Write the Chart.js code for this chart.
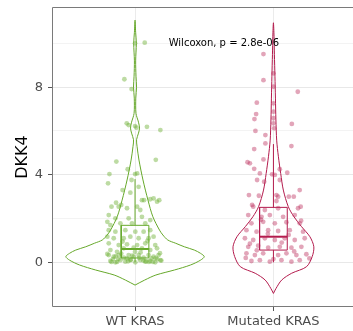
<!DOCTYPE html>
<html><head><meta charset="utf-8">
<script src="https://cdn.jsdelivr.net/npm/chart.js@4.4.1/dist/chart.umd.min.js"></script>
<style>
html,body{margin:0;padding:0;overflow:hidden;background:#fff;width:353px;height:331px;}
</style></head>
<body><canvas id="c" width="353" height="331" style="width:353px;height:331px;display:block"></canvas>
<script>
const categories = ['WT KRAS', 'Mutated KRAS'];
const yTickLabels = [0, 4, 8];
const yMinorTicks = [2, 6, 10];
const yLimits = [-2.04, 11.66];
const xLimits = [0.4, 2.575];
const pLabel = 'Wilcoxon, p = 2.8e-06';

// jittered points: horizontal jitter offset and value
const wtJitter = [0.07,0.0,-0.077,-0.025,-0.06,-0.046,0.0,0.01,0.086,0.183,0.15,-0.135,-0.185,-0.195,-0.053,0.0,0.015,-0.025,-0.09,-0.034,0.026,-0.137,-0.10,0.05,0.11,0.134,0.159,0.175,0.015,0.065,
 -0.17,-0.118,-0.058,0.038,-0.19,-0.142,-0.046,0.05,-0.2,-0.178,-0.106,-0.022,0.074,0.11,-0.19,-0.142,-0.07,0.002,0.062,0.11,-0.2,-0.154,-0.082,-0.034,0.026,0.098,0.134,
 -0.19,-0.118,-0.058,0.015,0.074,0.146,-0.178,-0.13,-0.082,-0.01,0.05,0.11,0.159,
 -0.19,-0.154,-0.118,-0.082,-0.046,-0.01,0.026,0.062,0.098,0.134,0.17,-0.178,-0.142,-0.106,-0.07,-0.034,0.002,0.038,0.074,0.11,0.146,0.183,
 -0.16,-0.1,-0.03,0.04,0.12,0.18,-0.13,-0.06,0.08,0.16,-0.2,0.0,0.19,-0.09,0.09,
 -0.17,-0.12,-0.05,0.03,0.1,0.15,-0.14,0.06,-0.02,0.13];
const wtValues = [10.03,10.0,8.36,7.91,6.35,6.27,6.22,6.15,6.19,6.04,4.68,4.6,4.03,3.61,4.25,4.03,4.06,3.76,3.30,3.18,3.45,2.72,2.62,2.84,2.88,2.92,2.77,2.84,2.54,2.84,
 2.54,2.54,2.47,2.39,2.16,2.01,2.01,2.08,1.85,1.70,1.78,1.78,1.78,1.93,1.47,1.40,1.47,1.40,1.40,1.47,1.17,1.10,1.10,1.17,1.10,1.10,1.17,
 0.87,0.79,0.82,0.79,0.87,0.79,0.56,0.48,0.64,0.67,0.64,0.56,0.64,
 0.33,0.26,0.33,0.21,0.33,0.26,0.33,0.21,0.33,0.26,0.33,0.06,0.0,0.1,0.03,0.1,0.0,0.1,0.03,0.06,0.0,0.1,
 0.15,0.4,0.12,0.45,0.18,0.42,0.02,0.18,0.05,0.14,0.38,0.48,0.08,0.95,0.98,
 0.02,0.15,0.05,0.2,0.02,0.2,0.27,0.08,0.3,0.02];

const mutJitter = [-0.072,-0.072,0.176,-0.12,-0.125,-0.137,0.133,-0.13,0.0,0.0,0.0,0.0,0.0,0.0,0.005,
 -0.058,-0.058,0.13,-0.139,-0.187,-0.17,-0.072,-0.139,-0.098,-0.01,0.01,0.046,0.10,-0.118,-0.067,0.046,0.19,-0.177,-0.105,0.022,0.034,0.111,0.147,-0.154,0.197,0.022,
 -0.146,-0.062,0.034,0.178,-0.182,-0.086,-0.026,0.07,0.154,-0.159,-0.074,0.01,0.094,0.19,-0.195,-0.122,-0.038,0.034,0.118,0.214,
 -0.206,-0.146,-0.062,0.01,0.082,0.154,0.226,-0.182,-0.11,-0.038,0.046,0.13,0.202,
 -0.195,-0.134,-0.074,0.034,0.094,0.166,0.238,-0.159,-0.098,-0.026,0.058,0.13,0.19,0.26,
 -0.12,0.06,-0.17,0.15,-0.04,0.11,-0.09,0.2,-0.2,0.0];
const mutValues = [9.51,8.32,7.79,7.29,6.77,6.54,6.32,6.0,8.63,8.02,7.26,6.88,6.58,6.35,6.12,
 5.81,5.43,5.31,5.17,4.57,4.52,4.70,4.27,4.06,4.02,3.99,4.25,4.09,3.76,3.68,3.76,3.30,3.07,3.04,3.07,3.0,3.0,3.0,2.62,2.54,2.80,
 2.54,2.39,2.47,2.47,2.16,2.08,2.16,2.08,2.16,1.78,1.85,1.78,1.83,1.78,1.47,1.40,1.47,1.43,1.47,1.40,
 1.10,1.02,1.10,1.02,1.10,1.02,1.10,0.71,0.76,0.67,0.71,0.67,0.71,
 0.41,0.33,0.41,0.33,0.41,0.33,0.37,0.06,0.10,0.03,0.10,0.03,0.10,0.18,
 0.55,0.9,0.85,0.5,1.3,1.25,1.95,1.9,0.2,0.15];

// violin outlines: value levels and relative density
const wtViolinY = [-1.04,-0.81,-0.58,-0.35,-0.12,0.1,0.26,0.41,0.56,0.71,0.87,1.02,1.25,1.47,2.08,2.84,3.76,4.67,5.3,5.6,5.9,6.13,6.4,6.8,7.5,8.0,8.5,9.2,10.0,10.5,11.06];
const wtViolinDensity = [0,0.139,0.301,0.57,0.803,0.947,1,0.947,0.857,0.713,0.588,0.473,0.402,0.354,0.258,0.187,0.115,0.057,0.029,0.022,0.05,0.065,0.05,0.014,0.011,0.022,0.014,0.009,0.019,0.009,0];
const mutViolinY = [-1.42,-1.2,-0.81,-0.5,-0.2,0.26,0.71,1.17,1.63,2.08,2.54,3.30,4.06,4.82,5.58,6.5,7.5,8.5,9.5,10.3,10.94];
const mutViolinDensity = [0,0.036,0.119,0.263,0.478,0.56,0.584,0.527,0.406,0.297,0.215,0.143,0.105,0.072,0.047,0.036,0.029,0.022,0.014,0.009,0];

// box stats: lower whisker, q1, median, q3, upper whisker
const wtBox = [0.0, 0.2, 0.61, 1.69, 3.8];
const mutBox = [0.0, 0.56, 1.17, 2.51, 5.40];

const GREEN = '#66a82a', RED = '#b31a4c';
const GREEN_PT = 'rgba(108,176,52,0.45)', RED_PT = 'rgba(186,40,88,0.42)';
const VIOLIN_HALF = 0.5, BOX_HALF = 0.1;

function pts(center, jit, vals){ return vals.map((v,i)=>({x:center+jit[i], y:v})); }
function violin(center, ys, ds){
  const right = ys.map((y,i)=>({x:center+ds[i]*VIOLIN_HALF, y}));
  const left = ys.slice(0,-1).map((y,i)=>({x:center-ds[i]*VIOLIN_HALF, y})).reverse();
  return right.concat(left);
}
function boxDs(center, b, color){
  const [lo,q1,md,q3,hi] = b;
  const base = {type:'line', showLine:true, pointRadius:0, borderColor:color, fill:false, tension:0, borderWidth:1};
  return [
    Object.assign({}, base, {data:[{x:center-BOX_HALF,y:q1},{x:center+BOX_HALF,y:q1},{x:center+BOX_HALF,y:q3},{x:center-BOX_HALF,y:q3},{x:center-BOX_HALF,y:q1}]}),
    Object.assign({}, base, {data:[{x:center,y:q3},{x:center,y:hi}]}),
    Object.assign({}, base, {data:[{x:center,y:lo},{x:center,y:q1}]}),
    Object.assign({}, base, {borderWidth:2, data:[{x:center-BOX_HALF,y:md},{x:center+BOX_HALF,y:md}]})
  ];
}

const datasets = [
  {type:'scatter', data:pts(1,wtJitter,wtValues), backgroundColor:GREEN_PT, borderWidth:0, pointRadius:2.4},
  {type:'scatter', data:pts(2,mutJitter,mutValues), backgroundColor:RED_PT, borderWidth:0, pointRadius:2.4},
  {type:'line', showLine:true, data:violin(1,wtViolinY,wtViolinDensity), borderColor:GREEN, borderWidth:1, pointRadius:0, fill:false, tension:0.3},
  {type:'line', showLine:true, data:violin(2,mutViolinY,mutViolinDensity), borderColor:RED, borderWidth:1, pointRadius:0, fill:false, tension:0.3},
  ...boxDs(1, wtBox, GREEN),
  ...boxDs(2, mutBox, RED)
];

const panelPlugin = {
  id:'panel',
  afterDraw(chart){
    const {ctx, chartArea:a, scales} = chart;
    ctx.save();
    ctx.strokeStyle = '#7a7a7a'; ctx.lineWidth = 1;
    ctx.beginPath();
    ctx.moveTo(a.right + 5, a.top + 0.5);
    ctx.lineTo(a.left + 0.5, a.top + 0.5);
    ctx.lineTo(a.left + 0.5, a.bottom - 0.5);
    ctx.lineTo(a.right + 5, a.bottom - 0.5);
    ctx.stroke();
    ctx.fillStyle = '#000';
    ctx.font = '10px "DejaVu Sans"';
    ctx.textAlign = 'center'; ctx.textBaseline = 'middle';
    ctx.fillText(pLabel, scales.x.getPixelForValue(1.642), scales.y.getPixelForValue(10.0));
    ctx.restore();
  }
};

new Chart(document.getElementById('c'), {
  type:'scatter',
  data:{datasets},
  options:{
    responsive:false, animation:false,
    layout:{autoPadding:false, padding:{top:7, right:0, left:0, bottom:0}},
    plugins:{legend:{display:false}, tooltip:{enabled:false}},
    scales:{
      x:{type:'linear', min:xLimits[0], max:xLimits[1],
        afterBuildTicks(s){ s.ticks = categories.map((c,i)=>({value:i+1})); },
        afterFit(s){ s.height = 24; s.paddingLeft = 0; s.paddingRight = 0; },
        ticks:{callback:(v)=>categories[Math.round(v)-1], color:'#4d4d4d', font:{family:'DejaVu Sans', size:13}, padding:3, autoSkip:false, maxRotation:0},
        grid:{color:'#ebebeb', lineWidth:1, tickLength:4, tickColor:'#555', drawTicks:true},
        border:{display:false}
      },
      y:{type:'linear', min:yLimits[0], max:yLimits[1],
        afterBuildTicks(s){ s.ticks = yTickLabels.concat(yMinorTicks).sort((a,b)=>a-b).map(v=>({value:v})); },
        afterFit(s){ s.width = 52; s.paddingTop = 0; s.paddingBottom = 0; },
        ticks:{callback:(v)=> yTickLabels.includes(v) ? String(v) : '', color:'#4d4d4d', font:{family:'DejaVu Sans', size:13}, padding:5},
        grid:{color:(c)=> yTickLabels.includes(c.tick.value) ? '#e8e8e8' : '#f3f3f3', lineWidth:1, tickLength:4,
              tickColor:(c)=> yTickLabels.includes(c.tick.value) ? '#555' : 'rgba(0,0,0,0)'},
        border:{display:false},
        title:{display:true, text:'DKK4', color:'#000', font:{family:'DejaVu Sans', size:16}, padding:{top:13.7, bottom:0}}
      }
    }
  },
  plugins:[panelPlugin]
});
</script></body></html>
